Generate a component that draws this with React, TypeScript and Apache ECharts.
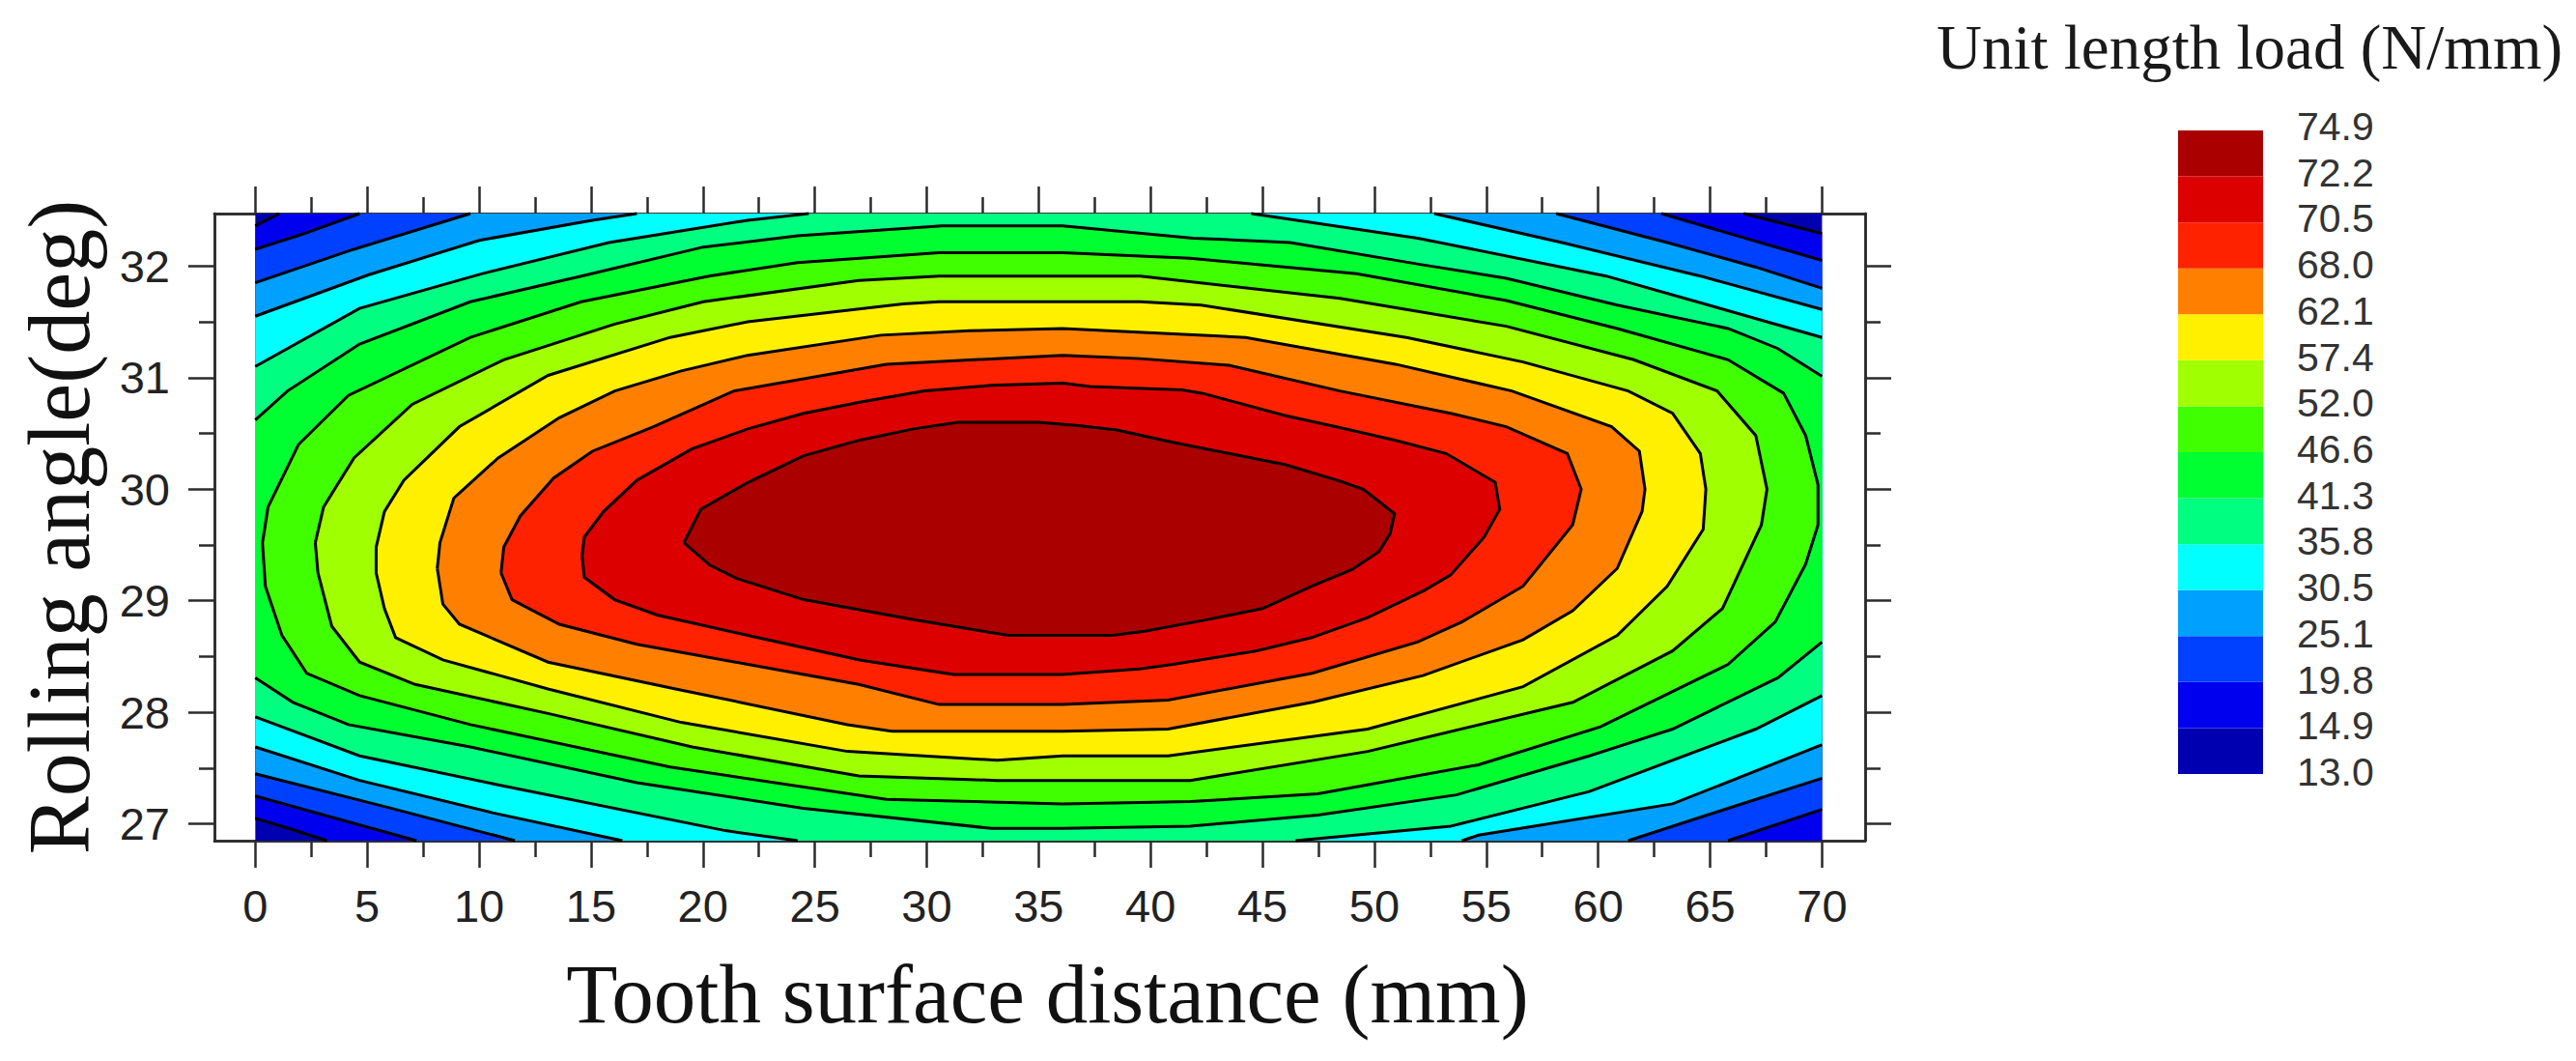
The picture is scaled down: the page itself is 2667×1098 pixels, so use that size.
import React, { useEffect, useRef } from "react";
import * as echarts from "echarts";

const xMajor = [0, 5, 10, 15, 20, 25, 30, 35, 40, 45, 50, 55, 60, 65, 70];
const xMinor = [2.5, 7.5, 12.5, 17.5, 22.5, 27.5, 32.5, 37.5, 42.5, 47.5, 52.5, 57.5, 62.5, 67.5];
const yMajor = [27, 28, 29, 30, 31, 32];
const yMinor = [27.5, 28.5, 29.5, 30.5, 31.5];
const legendLabels = ["13.0", "14.9", "19.8", "25.1", "30.5", "35.8", "41.3", "46.6", "52.0", "57.4", "62.1", "68.0", "70.5", "72.2", "74.9"];
const bandColors = ["#0000B0", "#0000EE", "#0040FF", "#00A0FF", "#00FFFF", "#00FF80", "#00FF30", "#40FF00", "#A0FF00", "#FFF000", "#FF8000", "#FF2200", "#DD0000", "#AA0000"];

const X0 = 0, X1 = 70, Y0 = 26.85, Y1 = 32.47;
const base = [[X0, Y1], [X1, Y1], [X1, Y0], [X0, Y0]];
const c149 = [[0, 32.36], [1.07, 32.47], [66.5, 32.47], [70, 32.29], [70, 26.85], [3.2, 26.85], [1.5, 26.96], [0, 27.05]];
const c198 = [[0, 32.15], [2.18, 32.29], [4.66, 32.47], [62.83, 32.47], [66.55, 32.25], [70, 32.05], [70, 27.13], [65.8, 26.85], [7.2, 26.85], [3.42, 27.06], [0, 27.25]];
const c251 = [[0, 31.85], [4.41, 32.15], [9.61, 32.47], [58.12, 32.47], [63.08, 32.21], [67.04, 31.99], [70, 31.8], [70, 27.41], [65.8, 27.14], [61.34, 26.85], [11.6, 26.85], [5.9, 27.15], [0, 27.45]];
const c305 = [[0, 31.55], [5.05, 31.92], [10.01, 32.23], [15.06, 32.41], [17.05, 32.47], [52.67, 32.47], [58.37, 32.21], [64.56, 31.91], [70, 31.61], [70, 27.71], [63.32, 27.18], [54.65, 26.9], [53.91, 26.85], [16.4, 26.85], [10.6, 27.1], [4.66, 27.39], [0, 27.69]];
const c358 = [[0, 31.1], [4.66, 31.62], [10.11, 31.93], [15.8, 32.21], [22, 32.41], [24.73, 32.47], [44.5, 32.47], [51.93, 32.25], [60.35, 31.91], [65.8, 31.6], [70, 31.36], [70, 28.15], [67.04, 27.85], [59.6, 27.29], [53.41, 26.98], [46.48, 26.85], [24.23, 26.85], [21, 26.94], [10.85, 27.35], [4.66, 27.61], [0, 27.96]];
const c413 = [[0, 30.62], [1.44, 30.88], [4.66, 31.3], [9.61, 31.68], [14.57, 31.91], [20.02, 32.17], [24.23, 32.27], [30.67, 32.36], [36.07, 32.36], [41.89, 32.25], [46.23, 32.21], [52.17, 32.01], [55.89, 31.89], [60.85, 31.65], [65.8, 31.44], [68.03, 31.26], [70, 31.01], [70, 28.63], [68.03, 28.31], [63.32, 27.85], [59.6, 27.61], [53.66, 27.26], [47.47, 27.08], [41.77, 26.98], [36.07, 26.96], [32.9, 26.96], [24.48, 27.14], [17.05, 27.37], [9.61, 27.69], [4.16, 27.89], [1.68, 28.09], [0, 28.31]];
const c466 = [[0.32, 29.52], [0.57, 29.84], [1.93, 30.4], [4.16, 30.84], [9.61, 31.36], [14.57, 31.68], [20.27, 31.91], [24.23, 32.03], [30.55, 32.12], [36.07, 32.12], [41.77, 32.07], [49.2, 31.93], [55.89, 31.69], [60.85, 31.44], [65.8, 31.16], [68.28, 30.86], [69.27, 30.48], [69.82, 30.04], [69.82, 29.68], [69.27, 29.33], [67.91, 28.81], [65.8, 28.43], [60.1, 27.87], [54.65, 27.53], [47.47, 27.27], [41.77, 27.2], [36.07, 27.18], [28.2, 27.22], [18.53, 27.51], [9.61, 27.89], [4.66, 28.15], [2.3, 28.35], [1.19, 28.69], [0.45, 29.13]];
const c520 = [[2.68, 29.52], [3.05, 29.84], [4.41, 30.28], [7.01, 30.76], [11.1, 31.16], [16.06, 31.48], [20.02, 31.68], [26.96, 31.87], [30.55, 31.91], [39.54, 31.91], [48.46, 31.71], [55.89, 31.46], [61.59, 31.16], [65.31, 30.88], [67.04, 30.48], [67.54, 30], [67.29, 29.68], [65.55, 28.93], [63.32, 28.55], [58.87, 28.09], [49.7, 27.65], [41.77, 27.39], [33.15, 27.39], [26.96, 27.43], [19.52, 27.69], [13.08, 27.99], [7.14, 28.25], [4.66, 28.45], [3.42, 28.77], [2.8, 29.25]];
const c574 = [[5.4, 29.48], [5.77, 29.8], [6.64, 30.08], [9.12, 30.56], [13.08, 31.02], [18.53, 31.36], [22, 31.5], [28.94, 31.66], [30.55, 31.68], [39.54, 31.68], [42.26, 31.65], [51.43, 31.36], [56.64, 31.14], [61.34, 30.88], [63.32, 30.68], [64.56, 30.32], [64.81, 30], [64.69, 29.64], [63.08, 29.13], [60.85, 28.69], [56.64, 28.23], [49.7, 27.85], [40.78, 27.61], [36.07, 27.61], [33.15, 27.57], [26.46, 27.65], [19.03, 27.91], [13.08, 28.21], [8.38, 28.47], [6.27, 28.67], [5.77, 28.93], [5.4, 29.25]];
const c621 = [[8.13, 29.29], [8.25, 29.52], [8.87, 29.92], [10.85, 30.28], [13.58, 30.64], [16.06, 30.88], [19.03, 31.06], [22, 31.2], [27.95, 31.38], [31.91, 31.42], [36.07, 31.44], [44.25, 31.36], [50.94, 31.12], [56.14, 30.88], [60.6, 30.56], [61.84, 30.34], [62.09, 30], [61.96, 29.8], [60.85, 29.29], [58.86, 28.91], [56.64, 28.65], [52.17, 28.33], [47.22, 28.09], [40.78, 27.85], [36.07, 27.83], [28.44, 27.83], [26.46, 27.89], [18.78, 28.21], [13.08, 28.45], [9.12, 28.79], [8.38, 28.97]];
const c680 = [[10.98, 29.25], [11.1, 29.48], [11.84, 29.76], [13.33, 30.1], [15.06, 30.34], [17.79, 30.56], [21.38, 30.88], [28.2, 31.12], [36.07, 31.2], [39.54, 31.17], [43.5, 31.11], [48.46, 30.88], [53.41, 30.68], [55.89, 30.56], [58.62, 30.32], [59.24, 30], [58.86, 29.68], [56.64, 29.13], [53.91, 28.81], [51.93, 28.63], [47.22, 28.35], [40.78, 28.11], [36.07, 28.07], [30.55, 28.07], [26.96, 28.25], [22, 28.43], [17.05, 28.61], [13.58, 28.79], [11.47, 29.01]];
const c705 = [[14.6, 29.4], [14.7, 29.57], [15.56, 29.8], [17.05, 30.08], [19.5, 30.36], [22, 30.54], [24.5, 30.68], [27, 30.78], [29.9, 30.88], [32.9, 30.93], [36.07, 30.95], [37.3, 30.92], [41.4, 30.89], [42.3, 30.86], [46, 30.66], [48.5, 30.55], [50.9, 30.44], [53.2, 30.32], [55.4, 30.06], [55.6, 29.82], [54.9, 29.57], [53.4, 29.23], [52.2, 29.09], [49.7, 28.85], [47.2, 28.67], [44.7, 28.55], [41, 28.43], [39.5, 28.39], [36.07, 28.34], [31.2, 28.34], [27, 28.47], [22, 28.69], [18, 28.87], [16.05, 29.01], [14.7, 29.21]];
const c722 = [[19.15, 29.52], [19.9, 29.82], [22, 30.06], [24.5, 30.3], [27, 30.44], [29.4, 30.54], [31.4, 30.6], [35, 30.6], [36.8, 30.57], [38.5, 30.53], [41, 30.42], [43.5, 30.32], [46, 30.22], [48.5, 30.07], [49.5, 30], [50.9, 29.78], [50.7, 29.6], [50.2, 29.44], [49, 29.28], [47.2, 29.13], [45, 28.93], [42.5, 28.83], [39.8, 28.73], [38.3, 28.69], [33.65, 28.69], [29.4, 28.83], [24.5, 29.01], [21.5, 29.2], [20.3, 29.32]];
const regions = [base, c149, c198, c251, c305, c358, c413, c466, c520, c574, c621, c680, c705, c722];

const onFrame = (a: number[], b: number[]) =>
  (a[0] === X0 && b[0] === X0) || (a[0] === X1 && b[0] === X1) || (a[1] === Y0 && b[1] === Y0) || (a[1] === Y1 && b[1] === Y1);

const AXIS = "#2b2b2b";
const TICK_W = 2.5;
const SANS = "'Liberation Sans', Arial, sans-serif";
const SERIF = "'Liberation Serif', 'Times New Roman', serif";
const XMIN = -1.826, XMAX = 71.925;

function xAx(position: string, values: number[], len: number, labels: boolean, extra: object = {}) {
  return {
    type: "value", gridIndex: 0, position, min: XMIN, max: XMAX,
    axisLine: { show: true, onZero: false, lineStyle: { color: AXIS, width: TICK_W } },
    axisTick: { show: true, length: len, customValues: values, lineStyle: { color: AXIS, width: TICK_W } },
    axisLabel: labels
      ? { show: true, customValues: values, margin: 44, fontFamily: SANS, fontSize: 47, color: "#222" }
      : { show: false },
    splitLine: { show: false },
    ...extra,
  };
}
function yAx(position: string, values: number[], len: number, labels: boolean, extra: object = {}) {
  return {
    type: "value", gridIndex: 0, position, min: Y0, max: Y1,
    axisLine: { show: true, onZero: false, lineStyle: { color: AXIS, width: TICK_W } },
    axisTick: { show: true, length: len, customValues: values, lineStyle: { color: AXIS, width: TICK_W } },
    axisLabel: labels
      ? { show: true, customValues: values, margin: 46, fontFamily: SANS, fontSize: 47, color: "#222" }
      : { show: false },
    splitLine: { show: false },
    ...extra,
  };
}

export default function App() {
  const ref = useRef<HTMLDivElement>(null);
  useEffect(() => {
    const chart = echarts.init(ref.current!, undefined, { renderer: "svg" });
    chart.setOption({
      animation: false,
      backgroundColor: "#fff",
      title: {
        text: "Unit length load (N/mm)",
        left: 2005, top: 16, padding: 0,
        textStyle: { fontFamily: SERIF, fontSize: 65, fontWeight: "normal", color: "#1a1a1a" },
      },
      grid: [
        { left: 222, top: 221, width: 1709, height: 649 },
        { left: 2255, top: 135, width: 88, height: 666 },
        { left: 2255, top: 131, width: 88, height: 668 },
      ],
      xAxis: [
        xAx("bottom", xMajor, 28, true, {
          name: "Tooth surface distance (mm)", nameLocation: "middle", nameGap: 115,
          nameTextStyle: { fontFamily: SERIF, fontSize: 87, color: "#111", padding: [0, 0, 0, 16] },
        }),
        xAx("bottom", xMinor, 17, false),
        xAx("top", xMajor, 28, false),
        xAx("top", xMinor, 17, false),
        { type: "value", gridIndex: 1, min: 0, max: 1, show: false },
        { type: "value", gridIndex: 2, min: 0, max: 1, show: false },
      ],
      yAxis: [
        yAx("left", yMajor, 27, true, {
          name: "Rolling angle(deg)", nameLocation: "middle", nameGap: 116,
          nameTextStyle: { fontFamily: SERIF, fontSize: 90, color: "#111" },
        }),
        yAx("left", yMinor, 16, false),
        yAx("right", yMajor, 27, false),
        yAx("right", yMinor, 16, false),
        {
          type: "category", gridIndex: 1, position: "right", boundaryGap: false,
          data: legendLabels, show: false,
        },
        {
          type: "category", gridIndex: 2, position: "right", boundaryGap: false,
          data: legendLabels,
          axisLine: { show: false }, axisTick: { show: false },
          axisLabel: { show: true, interval: 0, margin: 35, fontFamily: SANS, fontSize: 41, color: "#333" },
        },
      ],
      series: [
        {
          type: "custom", xAxisIndex: 0, yAxisIndex: 0, silent: true, clip: false,
          data: regions.map((_, i) => [i]),
          renderItem: (params: any, api: any) => {
            const i = api.value(0);
            const pts = regions[i];
            const px = pts.map((p) => api.coord(p));
            const children: any[] = [
              { type: "polygon", shape: { points: px }, style: { fill: bandColors[i], stroke: "none" } },
            ];
            if (i > 0) {
              let run: number[][] = [];
              const flush = () => {
                if (run.length > 1) {
                  children.push({ type: "polyline", shape: { points: run }, style: { fill: "none", stroke: "#000", lineWidth: 3 } });
                }
                run = [];
              };
              for (let k = 0; k < pts.length; k++) {
                const n = (k + 1) % pts.length;
                if (onFrame(pts[k], pts[n])) { flush(); continue; }
                if (run.length === 0) run.push(px[k]);
                run.push(px[n]);
              }
              flush();
            }
            return { type: "group", children };
          },
        },
        {
          type: "custom", xAxisIndex: 4, yAxisIndex: 4, silent: true,
          data: bandColors.map((_, i) => [i]),
          renderItem: (params: any, api: any) => {
            const i = api.value(0);
            const a = api.coord([0, i + 1]);
            const b = api.coord([1, i]);
            return { type: "rect", shape: { x: a[0], y: a[1], width: b[0] - a[0], height: b[1] - a[1] }, style: { fill: bandColors[i] } };
          },
        },
      ],
    });
    return () => chart.dispose();
  }, []);
  return <div ref={ref} style={{ position: "absolute", left: 0, top: 0, width: 2667, height: 1098 }} />;
}
